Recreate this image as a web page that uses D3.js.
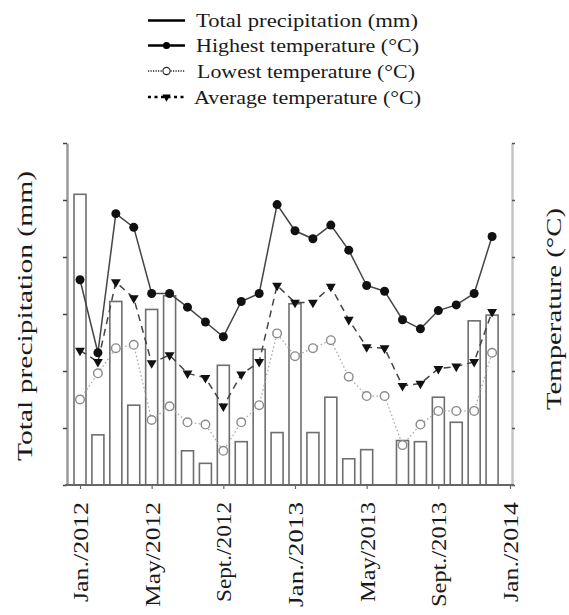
<!DOCTYPE html>
<html>
<head>
<meta charset="utf-8">
<script src="https://cdn.jsdelivr.net/npm/d3@7/dist/d3.min.js"></script>
<style>
  html, body { margin: 0; padding: 0; background: #fff; }
  svg { display: block; }
  text { font-family: "Liberation Serif", "DejaVu Serif", serif; fill: #1a1a1a; }
</style>
</head>
<body>
<svg id="chart" width="569" height="615"></svg>
<script>
// ---- data (Jan 2012 .. Dec 2013) ----
const months = ["Jan./2012","Feb./2012","Mar./2012","Apr./2012","May/2012","Jun./2012","Jul./2012","Aug./2012","Sept./2012","Oct./2012","Nov./2012","Dec./2012",
                "Jan./2013","Feb./2013","Mar./2013","Apr./2013","May/2013","Jun./2013","Jul./2013","Aug./2013","Sept./2013","Oct./2013","Nov./2013","Dec./2013"];
const precipitation = [255, 44, 161, 70, 154, 166, 30, 19, 105, 38, 119, 46,
                       159, 46, 77, 23, 31, 0, 39, 38, 77, 55, 144, 149];
const highestTemp = [18.0, 11.6, 23.8, 22.6, 16.8, 16.8, 15.6, 14.3, 13.0, 16.1, 16.8, 24.6,
                     22.3, 21.6, 22.8, 20.6, 17.5, 17.0, 14.5, 13.7, 15.3, 15.8, 16.8, 21.8];
const lowestTemp = [7.5, 9.8, 12.0, 12.3, 5.7, 6.9, 5.5, 5.3, 3.0, 5.5, 7.0, 13.3,
                    11.3, 12.0, 12.7, 9.5, 7.8, 7.8, 3.5, 5.3, 6.5, 6.5, 6.5, 11.6];
const averageTemp = [11.8, 10.8, 17.8, 16.4, 10.7, 11.4, 9.8, 9.4, 6.9, 9.7, 10.8, 17.5,
                     16.0, 16.0, 17.4, 14.5, 12.1, 12.0, 8.7, 8.9, 10.2, 10.4, 10.8, 15.2];
const xTickIndex = [0, 4, 8, 12, 16, 20, 24];
const xTickLabels = ["Jan./2012","May/2012","Sept./2012","Jan./2013","May/2013","Sept./2013","Jan./2014"];
const precipTicks = [0, 50, 100, 150, 200, 250, 300];
const tempTicks = [0, 5, 10, 15, 20, 25, 30];
const legendLabels = ["Total precipitation (mm)","Highest temperature (\u00B0C)","Lowest temperature (\u00B0C)","Average temperature (\u00B0C)"];
const titleLeft = "Total precipitation (mm)";
const titleRight = "Temperature (\u00B0C)";

// ---- layout ----
const svg = d3.select("#chart");
const plot = { left: 67, right: 512, top: 143, bottom: 485 };

const x = d3.scaleLinear().domain([0, 24]).range([80, 510]);
const yP = d3.scaleLinear().domain([0, 300]).range([plot.bottom, plot.top]);
const yT = d3.scaleLinear().domain([0, 30]).range([plot.bottom, plot.top]);

// ---- bars ----
const barW = 12;
svg.append("g").selectAll("rect")
  .data(precipitation.map((v, i) => ({ v, i })).filter(d => d.v > 0))
  .join("rect")
  .attr("x", d => x(d.i) - barW / 2)
  .attr("y", d => yP(d.v))
  .attr("width", barW)
  .attr("height", d => yP(0) - yP(d.v))
  .attr("fill", "#fff")
  .attr("stroke", "#6e6e6e")
  .attr("stroke-width", 1.6);

// ---- axes ----
const gLeft = svg.append("g").attr("transform", `translate(${plot.left},0)`)
  .call(d3.axisLeft(yP).tickValues(precipTicks).tickFormat("").tickSize(4).tickSizeOuter(0));
gLeft.select(".domain").attr("stroke", "#9a9a9a").attr("stroke-width", 2.5);
gLeft.selectAll(".tick line").attr("stroke", "#444").attr("stroke-width", 1.5);

const gRight = svg.append("g").attr("transform", `translate(${plot.right},0)`)
  .call(d3.axisRight(yT).tickValues(tempTicks).tickFormat("").tickSize(3).tickSizeOuter(0));
gRight.select(".domain").attr("stroke", "#c4c4c4").attr("stroke-width", 2.5);
gRight.selectAll(".tick line").attr("stroke", "#555").attr("stroke-width", 1.5);

const gBottom = svg.append("g").attr("transform", `translate(0,${plot.bottom})`)
  .call(d3.axisBottom(x).tickValues(xTickIndex).tickFormat((d, i) => xTickLabels[i]).tickSize(4).tickSizeOuter(0));
gBottom.attr("font-family", null);
gBottom.select(".domain").attr("d", `M${plot.left - 2},0H${plot.right + 2}`).attr("stroke", "#666").attr("stroke-width", 2);
gBottom.selectAll(".tick line").attr("stroke", "#666").attr("stroke-width", 1.2);
gBottom.selectAll(".tick text")
  .attr("transform", "rotate(-90)")
  .attr("text-anchor", "end")
  .attr("x", -17)
  .attr("y", 0)
  .attr("dy", "0.36em")
  .attr("textLength", d => d % 8 === 0 ? 100 : (d % 8 === 4 ? 105 : 110))
  .attr("lengthAdjust", "spacingAndGlyphs")
  .style("font-family", '"Liberation Serif", "DejaVu Serif", serif')
  .style("font-size", "21px")
  .attr("fill", "#1a1a1a");

// ---- lines ----
const lineGen = arr => d3.line().x((d, i) => x(i)).y(d => yT(d))(arr);

svg.append("path").attr("d", lineGen(lowestTemp))
  .attr("fill", "none").attr("stroke", "#a8a8a8").attr("stroke-width", 1.3).attr("stroke-dasharray", "1.5,2.5");
svg.append("path").attr("d", lineGen(averageTemp))
  .attr("fill", "none").attr("stroke", "#444").attr("stroke-width", 1.5).attr("stroke-dasharray", "7,5");
svg.append("path").attr("d", lineGen(highestTemp))
  .attr("fill", "none").attr("stroke", "#444").attr("stroke-width", 1.5);

// markers
svg.append("g").selectAll("circle").data(lowestTemp).join("circle")
  .attr("cx", (d, i) => x(i)).attr("cy", d => yT(d)).attr("r", 4.3)
  .attr("fill", "#fff").attr("stroke", "#8a8a8a").attr("stroke-width", 1.4);
const tri = d3.symbol().type(d3.symbolTriangle).size(42);
svg.append("g").selectAll("path").data(averageTemp).join("path")
  .attr("d", tri)
  .attr("transform", (d, i) => `translate(${x(i)},${yT(d)}) rotate(180)`)
  .attr("fill", "#111");
svg.append("g").selectAll("circle").data(highestTemp).join("circle")
  .attr("cx", (d, i) => x(i)).attr("cy", d => yT(d)).attr("r", 4.5)
  .attr("fill", "#111");

// ---- axis titles ----
svg.append("text")
  .attr("transform", `translate(32,316) rotate(-90)`)
  .attr("text-anchor", "middle")
  .attr("textLength", 290).attr("lengthAdjust", "spacingAndGlyphs")
  .style("font-size", "22px")
  .text(titleLeft);
svg.append("text")
  .attr("transform", `translate(561,309) rotate(-90)`)
  .attr("text-anchor", "middle")
  .attr("textLength", 202).attr("lengthAdjust", "spacingAndGlyphs")
  .style("font-size", "22px")
  .text(titleRight);

// ---- legend ----
const legY = [20.5, 45.5, 71, 97];
const legLen = [222, 223, 218, 227];
const legX = [196, 196, 197, 194];
const lx0 = 148, lx1 = 185;
const leg = svg.append("g");
// total precipitation
leg.append("line").attr("x1", lx0).attr("x2", lx1).attr("y1", legY[0]).attr("y2", legY[0])
  .attr("stroke", "#000").attr("stroke-width", 2.5);
// highest
leg.append("line").attr("x1", lx0).attr("x2", lx1).attr("y1", legY[1]).attr("y2", legY[1])
  .attr("stroke", "#000").attr("stroke-width", 2.5);
leg.append("circle").attr("cx", (lx0 + lx1) / 2).attr("cy", legY[1]).attr("r", 3.6).attr("fill", "#000");
// lowest
leg.append("line").attr("x1", lx0).attr("x2", lx1).attr("y1", legY[2]).attr("y2", legY[2])
  .attr("stroke", "#222").attr("stroke-width", 1.5).attr("stroke-dasharray", "1.2,1.3");
leg.append("circle").attr("cx", (lx0 + lx1) / 2).attr("cy", legY[2]).attr("r", 3.6)
  .attr("fill", "#fff").attr("stroke", "#222").attr("stroke-width", 1.1);
// average
leg.append("line").attr("x1", lx0).attr("x2", lx1).attr("y1", legY[3]).attr("y2", legY[3])
  .attr("stroke", "#000").attr("stroke-width", 2.5).attr("stroke-dasharray", "3,3.5");
leg.append("path").attr("d", d3.symbol().type(d3.symbolTriangle).size(30))
  .attr("transform", `translate(${(lx0 + lx1) / 2},${legY[3]}) rotate(180)`).attr("fill", "#000");

leg.selectAll("text.lab").data(legendLabels).join("text")
  .attr("class", "lab")
  .attr("x", (d, i) => legX[i]).attr("y", (d, i) => legY[i]).attr("dy", "0.34em")
  .attr("textLength", (d, i) => legLen[i]).attr("lengthAdjust", "spacingAndGlyphs")
  .style("font-size", "19.5px")
  .text(d => d);
</script>
</body>
</html>
